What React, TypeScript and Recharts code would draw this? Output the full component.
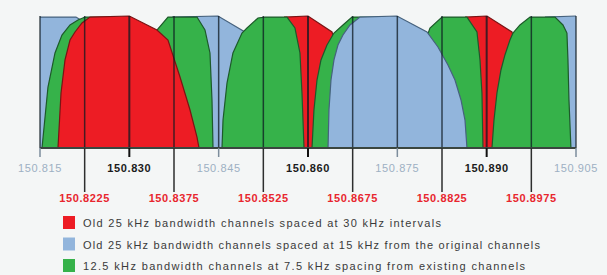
import { ComposedChart, Area, XAxis, YAxis, ReferenceLine, Legend } from 'recharts';

// channel centre frequencies (MHz)
const redCentres = [150.83, 150.86, 150.89];
const blueCentres = [150.815, 150.845, 150.875, 150.905];
const greenCentres = [150.8225, 150.8375, 150.8525, 150.8675, 150.8825, 150.8975];
const allTicks = [...blueCentres, ...redCentres, ...greenCentres].sort((a, b) => a - b);

// filter outlines, relative level 0-100 (what is visible of each channel)
const blue815 = [
  { f: 150.815, v: 99.2 }, { f: 150.82104, v: 99.2 }, { f: 150.82239, v: 95.5 },
  { f: 150.82423, v: 74.2 }, { f: 150.82541, v: 0 },
];
const blue845 = [
  { f: 150.83716, v: 99.2 }, { f: 150.84489, v: 100 }, { f: 150.84942, v: 87.9 },
  { f: 150.8511, v: 78 }, { f: 150.85278, v: 36.4 }, { f: 150.85362, v: 0 },
];
const blue875 = [
  { f: 150.86336, v: 0 }, { f: 150.86352, v: 28.8 }, { f: 150.86386, v: 51.5 },
  { f: 150.86436, v: 66.7 }, { f: 150.86503, v: 78 }, { f: 150.86587, v: 85.6 },
  { f: 150.86705, v: 93.2 }, { f: 150.86873, v: 99.2 }, { f: 150.87494, v: 100 },
  { f: 150.87998, v: 87.9 }, { f: 150.88182, v: 76.5 }, { f: 150.8835, v: 62.9 },
  { f: 150.88468, v: 51.5 }, { f: 150.88569, v: 36.4 }, { f: 150.88636, v: 21.2 },
  { f: 150.88669, v: 0 },
];
const blue905 = [{ f: 150.89979, v: 99.2 }, { f: 150.905, v: 100 }];

const red830 = [
  { f: 150.81802, v: 0 }, { f: 150.81853, v: 41.7 }, { f: 150.8192, v: 66.7 },
  { f: 150.82004, v: 81.8 }, { f: 150.82088, v: 87.9 }, { f: 150.82205, v: 94.7 },
  { f: 150.8234, v: 99.2 }, { f: 150.83, v: 100 }, { f: 150.83464, v: 89.4 },
  { f: 150.83649, v: 81.8 }, { f: 150.83851, v: 53.8 }, { f: 150.84019, v: 28.8 },
  { f: 150.84136, v: 8.3 }, { f: 150.8417, v: 0 },
];
const red860 = [
  { f: 150.85597, v: 99.2 }, { f: 150.86, v: 100 }, { f: 150.86403, v: 87.9 },
  { f: 150.86537, v: 66.7 }, { f: 150.86621, v: 0 },
];
const red890 = [
  { f: 150.88636, v: 99.2 }, { f: 150.89005, v: 100 }, { f: 150.89425, v: 87.9 },
  { f: 150.89559, v: 66.7 }, { f: 150.89643, v: 0 },
];

const green8225 = [
  { f: 150.81534, v: 0 }, { f: 150.81634, v: 46.2 }, { f: 150.81752, v: 72 },
  { f: 150.81869, v: 85.6 }, { f: 150.82004, v: 93.2 }, { f: 150.82138, v: 97 },
  { f: 150.82256, v: 99.2 }, { f: 150.82675, v: 99.2 }, { f: 150.82927, v: 0 },
];
const green8375 = [
  { f: 150.83145, v: 0 }, { f: 150.83263, v: 66.7 }, { f: 150.83464, v: 89.4 },
  { f: 150.83649, v: 99.2 }, { f: 150.84136, v: 99.2 }, { f: 150.8427, v: 89.4 },
  { f: 150.84354, v: 72 }, { f: 150.84388, v: 36.4 }, { f: 150.84405, v: 0 },
];
const green8525 = [
  { f: 150.84556, v: 0 }, { f: 150.84573, v: 21.2 }, { f: 150.8464, v: 49.2 },
  { f: 150.8474, v: 72 }, { f: 150.84892, v: 87.1 }, { f: 150.84976, v: 90.9 },
  { f: 150.8516, v: 98.5 }, { f: 150.85278, v: 99.2 }, { f: 150.85647, v: 99.2 },
  { f: 150.85781, v: 90.9 }, { f: 150.85865, v: 72 }, { f: 150.85899, v: 41.7 },
  { f: 150.85933, v: 0 },
];
const green8675 = [
  { f: 150.86067, v: 0 }, { f: 150.861, v: 28.8 }, { f: 150.86151, v: 51.5 },
  { f: 150.86218, v: 66.7 }, { f: 150.86319, v: 78 }, { f: 150.86436, v: 87.1 },
  { f: 150.86587, v: 93.2 }, { f: 150.86738, v: 99.2 }, { f: 150.87293, v: 99.2 },
  { f: 150.8746, v: 0 },
];
const green8825 = [
  { f: 150.87947, v: 78 }, { f: 150.88048, v: 90.9 }, { f: 150.8825, v: 99.2 },
  { f: 150.88669, v: 99.2 }, { f: 150.88837, v: 87.9 }, { f: 150.88888, v: 66.7 },
  { f: 150.88921, v: 41.7 }, { f: 150.88938, v: 0 },
];
const green8975 = [
  { f: 150.89089, v: 0 }, { f: 150.89123, v: 21.2 }, { f: 150.89173, v: 41.7 },
  { f: 150.8924, v: 59.1 }, { f: 150.89307, v: 70.5 }, { f: 150.89391, v: 81.8 },
  { f: 150.89442, v: 87.1 }, { f: 150.89559, v: 93.2 }, { f: 150.89727, v: 99.2 },
  { f: 150.90147, v: 99.2 }, { f: 150.90281, v: 93.2 }, { f: 150.90348, v: 87.1 },
  { f: 150.90365, v: 66.7 }, { f: 150.90382, v: 36.4 }, { f: 150.90415, v: 0 },
];

const legendLabels = [
  'Old 25 kHz bandwidth channels spaced at 30 kHz intervals',
  'Old 25 kHz bandwidth channels spaced at 15 kHz from the original channels',
  '12.5 kHz bandwidth channels at 7.5 kHz spacing from existing channels',
];

const RED = '#ed1c24';
const BLUE = '#92b5dc';
const GREEN = '#36b24a';
const FONT = '"Liberation Sans", Arial, sans-serif';

const legendColours = [RED, BLUE, GREEN];
const legendWidths = [358, 457, 442];

function FreqTick(props: any) {
  const { x, y, payload } = props;
  const v = payload.value as number;
  if (greenCentres.includes(v)) {
    return (
      <g>
        <line x1={x} x2={x} y1={y} y2={y + 44} stroke="#2e2e2e" strokeWidth={1.5} />
        <text x={x} y={y + 54} textAnchor="middle" fill="#e8262e" fontSize={11} fontWeight={600}
          letterSpacing={0.6} fontFamily={FONT}>{v.toFixed(4)}</text>
      </g>
    );
  }
  const isRed = redCentres.includes(v);
  return (
    <g>
      <line x1={x} x2={x} y1={y} y2={y + 9} stroke={isRed ? '#111' : '#7d8d9c'} strokeWidth={isRed ? 2 : 1.5} />
      <text x={x} y={y + 24} textAnchor="middle" fill={isRed ? '#1b1b1b' : '#9db0c3'} fontSize={11}
        fontWeight={isRed ? 700 : 400} letterSpacing={0.6} fontFamily={FONT}>{v.toFixed(3)}</text>
    </g>
  );
}

function ChannelLegend() {
  return (
    <svg width={607} height={67}>
      {legendLabels.map((label, i) => {
        const cy = 15 + i * 21.5;
        return (
          <g key={label}>
            <rect x={63} y={cy - 7} width={12} height={13} fill={legendColours[i]} />
            <text x={83} y={cy + 4} fontSize={11} fill="#3a3a3a" fontFamily={FONT}
              textLength={legendWidths[i]} lengthAdjust="spacing">{label}</text>
          </g>
        );
      })}
    </svg>
  );
}

const areaProps = {
  type: 'linear' as const,
  dataKey: 'v',
  isAnimationActive: false,
  dot: false,
  activeDot: false,
  legendType: 'none' as const,
  strokeWidth: 1.2,
  fillOpacity: 1,
};

export default function App() {
  return (
    <div style={{ position: 'absolute', left: 0, top: 0, width: 607, height: 275, background: '#f4f6f6' }}>
      <ComposedChart width={607} height={275} margin={{ top: 16, right: 31, left: 40, bottom: 67 }}>
        <XAxis
          dataKey="f"
          type="number"
          domain={[150.815, 150.905]}
          allowDataOverflow
          ticks={allTicks}
          interval={0}
          height={60}
          tickSize={0}
          tickMargin={0}
          tickLine={false}
          axisLine={{ stroke: '#3a463f', strokeWidth: 2 }}
          tick={<FreqTick />}
        />
        <YAxis hide type="number" domain={[0, 100]} />

        <Area {...areaProps} data={blue815} fill={BLUE} stroke="#46627e" />
        <Area {...areaProps} data={blue845} fill={BLUE} stroke="#46627e" />
        <Area {...areaProps} data={blue905} fill={BLUE} stroke="#46627e" />
        <Area {...areaProps} data={red860} fill={RED} stroke="#7a1414" />
        <Area {...areaProps} data={red890} fill={RED} stroke="#7a1414" />
        <Area {...areaProps} data={green8675} fill={GREEN} stroke="#1d5a2a" />
        <Area {...areaProps} data={green8825} fill={GREEN} stroke="#1d5a2a" />
        <Area {...areaProps} data={blue875} fill={BLUE} stroke="#46627e" />
        <Area {...areaProps} data={green8225} fill={GREEN} stroke="#1d5a2a" />
        <Area {...areaProps} data={green8375} fill={GREEN} stroke="#1d5a2a" />
        <Area {...areaProps} data={green8525} fill={GREEN} stroke="#1d5a2a" />
        <Area {...areaProps} data={green8975} fill={GREEN} stroke="#1d5a2a" />
        <Area {...areaProps} data={red830} fill={RED} stroke="#7a1414" />

        {allTicks.map((t) => (
          <ReferenceLine
            key={t}
            x={t}
            stroke="#0e1a22"
            strokeOpacity={0.75}
            strokeWidth={redCentres.includes(t) ? 2 : 1.5}
          />
        ))}

        <Legend
          layout="vertical"
          align="center"
          verticalAlign="middle"
          wrapperStyle={{ position: 'absolute', left: 0, top: 208, width: 607, height: 67 }}
          content={() => <ChannelLegend />}
        />
      </ComposedChart>
    </div>
  );
}
